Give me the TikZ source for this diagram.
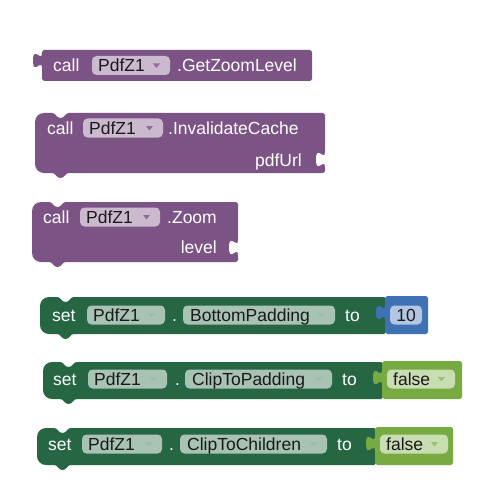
\documentclass[tikz,border=0pt]{standalone}
\usepackage{fontspec}
\setmainfont{Liberation Sans}
\definecolor{procC}{RGB}{124,83,133}
\definecolor{procF}{RGB}{203,186,206}
\definecolor{setC}{RGB}{38,102,67}
\definecolor{setF}{RGB}{168,194,180}
\definecolor{mathC}{RGB}{63,113,181}
\definecolor{mathF}{RGB}{178,198,225}
\definecolor{logicC}{RGB}{119,171,65}
\definecolor{logicF}{RGB}{201,221,179}
\tikzset{
  lbl/.style={anchor=west, inner sep=0pt, text=white, font=\fontsize{17.5}{17.5}\selectfont, text height=12.5pt, text depth=0pt},
  flbl/.style={lbl, text=black!90},
}
% value block: L T R B tabY colour
\newcommand\valblock[6]{%
  \fill[#6] (#1,{#2+2}) -- ({#1+2},#2) -- ({#3-2},#2) -- (#3,{#2+2}) -- (#3,{#4-2}) -- ({#3-2},#4)
    -- ({#1+2},#4) -- (#1,{#4-2}) -- (#1,{#5+15})
    .. controls (#1,{#5+5}) and ({#1-9},{#5+23}) .. ({#1-9},{#5+7.5})
    .. controls ({#1-9},{#5-8}) and (#1,{#5+10}) .. (#1,#5) -- cycle;}
% statement block: L T R B colour
\newcommand\stmtblock[5]{%
  \fill[#5] (#1,{#2+9}) .. controls (#1,{#2+4}) and ({#1+4},#2) .. ({#1+9},#2)
    -- ({#1+17},#2) .. controls ({#1+21},#2) and ({#1+21},{#2+5}) .. ({#1+25.5},{#2+5})
    .. controls ({#1+30},{#2+5}) and ({#1+30},#2) .. ({#1+34},#2)
    -- ({#3-2},#2) -- (#3,{#2+2}) -- (#3,{#4-2}) -- ({#3-2},#4) -- ({#1+34},#4)
    .. controls ({#1+30},#4) and ({#1+30},{#4+5}) .. ({#1+25.5},{#4+5})
    .. controls ({#1+21},{#4+5}) and ({#1+21},#4) .. ({#1+17},#4)
    -- ({#1+9},#4) .. controls ({#1+4},#4) and (#1,{#4-4}) .. (#1,{#4-9}) -- cycle;}
% socket cut on the right edge: R ys
\newcommand\socket[2]{%
  \fill[white] ({#1+1},{#2-1}) -- (#1,#2) .. controls (#1,{#2+10}) and ({#1-9},{#2-8}) .. ({#1-9},{#2+7.5})
    .. controls ({#1-9},{#2+23}) and (#1,{#2+5}) .. (#1,{#2+15}) -- ({#1+1},{#2+16}) -- cycle;}
% field: x1 x2 yc colour
\newcommand\fieldbox[4]{\fill[#4, rounded corners=4.5pt] (#1,{#3-9.5}) rectangle (#2,{#3+9.5});}
% dropdown arrow: x2(field right) yc colour
\newcommand\ddarrow[3]{\fill[#3] ({#1-17},{#2-2}) -- ({#1-10},{#2-2}) -- ({#1-13.5},{#2+2.5}) -- cycle;}
\begin{document}
\begin{tikzpicture}[x=1pt,y=-1pt]
\useasboundingbox (0,0) rectangle (492,500);
\fill[white] (0,0) rectangle (492,500);

% ---- block 1
\valblock{42}{50}{312}{81}{53}{procC}
\node[lbl] (c1) at (53,65.5) {call};
\fieldbox{92}{170}{65.5}{procF}
\node[flbl] (p1) at (98,65.5) {PdfZ1};
\ddarrow{170}{65.5}{procC!85!white}
\node[lbl] (m1) at (177,65.5) {.GetZoomLevel};

% ---- block 2
\stmtblock{35}{113}{325}{173}{procC}
\socket{325}{152}
\node[lbl] (c2) at (47,128) {call};
\fieldbox{83}{163}{128}{procF}
\node[flbl] (p2) at (89,128) {PdfZ1};
\ddarrow{163}{128}{procC!85!white}
\node[lbl] (m2) at (168,128) {.InvalidateCache};
\node[lbl, anchor=east] (a2) at (302,160) {pdfUrl};

% ---- block 3
\stmtblock{32}{202}{238}{262}{procC}
\socket{238}{240}
\node[lbl] (c3) at (43,217) {call};
\fieldbox{80}{160}{217}{procF}
\node[flbl] (p3) at (86,217) {PdfZ1};
\ddarrow{160}{217}{procC!85!white}
\node[lbl] (m3) at (167,217) {.Zoom};
\node[lbl, anchor=east] (a3) at (217,247) {level};

% ---- block 4
\stmtblock{40}{297}{386}{334}{setC}
\node[lbl] (s4) at (52,315) {set};
\fieldbox{87}{165}{315}{setF}
\node[flbl] (p4) at (93,315) {PdfZ1};
\ddarrow{165}{315}{setC!45!white}
\node[lbl] (d4) at (172,315) {.};
\fieldbox{183}{335}{315}{setF}
\node[flbl] (q4) at (190,315) {BottomPadding};
\ddarrow{335}{315}{setC!45!white}
\node[lbl] (t4) at (345,315) {to};
\valblock{385}{296}{428}{334}{305}{mathC}
\fieldbox{390}{422}{315}{mathF}
\node[flbl, anchor=center] (n4) at (406,315) {10};

% ---- block 5
\stmtblock{43}{362}{383}{399}{setC}
\node[lbl] (s5) at (53,379) {set};
\fieldbox{88}{167}{379}{setF}
\node[flbl] (p5) at (94,379) {PdfZ1};
\ddarrow{167}{379}{setC!45!white}
\node[lbl] (d5) at (175,379) {.};
\fieldbox{185}{332}{379}{setF}
\node[flbl] (q5) at (192,379) {ClipToPadding};
\ddarrow{332}{379}{setC!45!white}
\node[lbl] (t5) at (342,379) {to};
\valblock{382}{361}{462}{399}{370}{logicC}
\fieldbox{387}{455}{379}{logicF}
\node[flbl] (f5) at (393,379) {false};
\ddarrow{455}{379}{logicC!75!white}

% ---- block 6
\stmtblock{37}{428}{376}{465}{setC}
\node[lbl] (s6) at (48,444) {set};
\fieldbox{82}{162}{444}{setF}
\node[flbl] (p6) at (88,444) {PdfZ1};
\ddarrow{162}{444}{setC!45!white}
\node[lbl] (d6) at (169,444) {.};
\fieldbox{180}{327}{444}{setF}
\node[flbl] (q6) at (187,444) {ClipToChildren};
\ddarrow{327}{444}{setC!45!white}
\node[lbl] (t6) at (337,444) {to};
\valblock{375}{427}{453}{465}{436}{logicC}
\fieldbox{380}{448}{444}{logicF}
\node[flbl] (f6) at (386,444) {false};
\ddarrow{448}{444}{logicC!75!white}
\end{tikzpicture}
\end{document}
